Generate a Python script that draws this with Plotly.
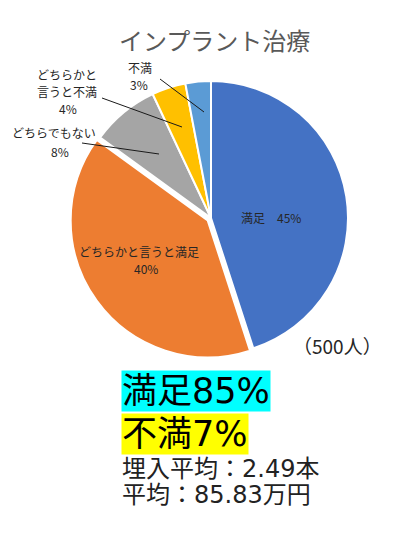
import plotly.graph_objects as go

W, H = 395, 539

categories = ["満足", "どちらかと言うと満足", "どちらでもない", "どちらかと言うと不満", "不満"]
values = [45, 40, 8, 4, 3]
colors = ["#4472C4", "#ED7D31", "#A5A5A5", "#FFC000", "#5B9BD5"]
pulls = [0, 0.03, 0, 0, 0]

title_text = "インプラント治療"
sample_text = "（500人）"
summary_sat = "満足85%"
summary_dis = "不満7%"
stat_implant = "埋入平均：2.49本"
stat_price = "平均：85.83万円"

CJK = "Noto Sans CJK JP"
LATIN_CJK = "DejaVu Sans, Noto Sans CJK JP"


def px(x):
    return x / W


def py(y):
    return 1 - y / H


# pie geometry (pixels)
cx, cy, r = 211, 218, 137
half = r * (1 + max(pulls))

fig = go.Figure()
fig.add_trace(go.Pie(
    labels=categories,
    values=values,
    sort=False,
    direction="clockwise",
    rotation=0,
    pull=pulls,
    marker=dict(colors=colors, line=dict(color="white", width=2)),
    textinfo="none",
    hoverinfo="label+percent",
    showlegend=False,
    domain=dict(x=[px(cx - half), px(cx + half)], y=[py(cy + half), py(cy - half)]),
))

annotations = []


def text(x, y, s, size, color="#262626", family=CJK, xanchor="center", borderpad=0, **kw):
    annotations.append(dict(
        x=px(x), y=py(y), xref="paper", yref="paper", text=s, showarrow=False,
        font=dict(size=size, color=color, family=family), xanchor=xanchor,
        yanchor="middle", borderpad=borderpad, **kw))


pct = [f"{v}%" for v in values]
LS = 12  # label font size

# title
text(214, 40, title_text, 24, color="#595959")

# slice labels
text(271, 217, f"{categories[0]}　{pct[0]}", LS)
text(139, 252, categories[1], LS)
text(146, 269, pct[1], LS)
text(54, 133, "どちらでもない", LS)
text(60, 151, pct[2], LS)
text(67, 75, "どちらかと", LS)
text(67, 92, "言うと不満", LS)
text(68, 109, pct[3], LS)
text(140, 67, categories[4], LS)
text(139, 84, pct[4], LS)

# sample size
text(337, 345, sample_text, 19, color="#262626")

# summaries
text(121, 391, summary_sat, 35, color="#000000", family=LATIN_CJK, xanchor="left",
     bgcolor="#00FFFF")
text(121, 434, summary_dis, 35, color="#000000", family=LATIN_CJK, xanchor="left",
     bgcolor="#FFFF00")
text(121, 469, stat_implant, 24, color="#222222", family=LATIN_CJK, xanchor="left")
text(121, 495, stat_price, 24, color="#222222", family=LATIN_CJK, xanchor="left")

# leader lines
leaders = [((160, 79), (204, 112)), ((102, 98), (182, 127)), ((82, 143), (159, 154))]
shapes = []
for (x0, y0), (x1, y1) in leaders:
    shapes.append(dict(type="line", xref="paper", yref="paper",
                       x0=px(x0), y0=py(y0), x1=px(x1), y1=py(y1),
                       line=dict(color="#1a1a1a", width=1)))

fig.update_layout(
    width=W, height=H,
    margin=dict(l=0, r=0, t=0, b=0),
    paper_bgcolor="white", plot_bgcolor="white",
    annotations=annotations, shapes=shapes,
    font=dict(family=CJK),
)

fig.write_html(
    "out.html",
    config={"displayModeBar": False},
    post_script="document.body.style.margin='0';document.body.style.overflow='hidden';",
)
